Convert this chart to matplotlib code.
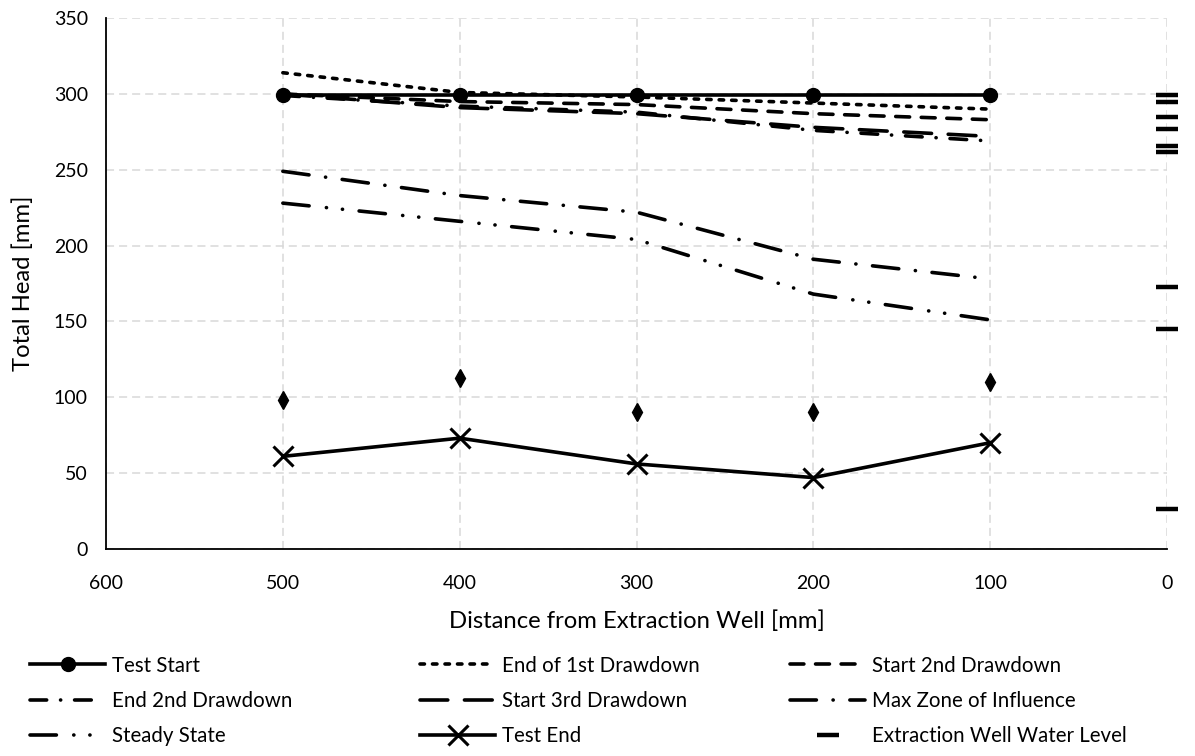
import matplotlib
matplotlib.use("Agg")
import matplotlib.pyplot as plt

plt.rcParams['font.family'] = ['Lato', 'DejaVu Sans']
plt.rcParams['lines.scale_dashes'] = False

distance = [500, 400, 300, 200, 100]

test_start = [299, 299, 299, 299, 299]
end_1st = [314, 301, 298, 294, 290]
start_2nd = [300, 295, 293, 287, 283]
end_2nd = [299, 292, 288, 276, 269]
start_3rd = [300, 291, 287, 278, 272]
max_zone = [249, 233, 222, 191, 178]
steady = [228, 216, 204, 168, 151]
test_end = [61, 73, 56, 47, 70]
other_pts = [98, 113, 90, 90, 110]

well_x = [0, 0, 0, 0, 0, 0, 0, 0, 0]
well_level = [299, 295, 285, 277, 266, 262, 173, 145, 26]

fig = plt.figure(figsize=(11.95, 7.56), dpi=100)
ax = fig.add_axes([0.0887, 0.274, 0.888, 0.702])

lw = 2.6
st = dict(color='black', lw=lw, dash_capstyle='round')
h = []
h += ax.plot(distance, test_start, color='black', lw=lw, marker='o', ms=10, label='Test Start')
h += ax.plot(distance, end_1st, dashes=(3.2, 5.8), label='End of 1st Drawdown', **st)
h += ax.plot(distance, start_2nd, dashes=(10, 8.4), label='Start 2nd Drawdown', **st)
h += ax.plot(distance, end_2nd, dashes=(12, 10, 0.1, 10), label='End 2nd Drawdown', **st)
h += ax.plot(distance, start_3rd, dashes=(20, 12), label='Start 3rd Drawdown', **st)
h += ax.plot(distance, max_zone, dashes=(19, 12, 0.1, 12), label='Max Zone of Influence', **st)
h += ax.plot(distance, steady, dashes=(19, 12.5, 0.1, 11.5, 0.1, 12), label='Steady State', **st)
h += ax.plot(distance, test_end, color='black', lw=lw, marker='x', ms=14, mew=2.2, label='Test End')
ax.plot(distance, other_pts, color='black', lw=0, marker='d', ms=9, label='_nolegend_')
h += ax.plot(well_x, well_level, color='black', lw=0, marker='_', ms=16, mew=3.2, clip_on=False,
             label='Extraction Well Water Level')

ax.set_xlim(600, 0)
ax.set_ylim(0, 350)
ax.set_xticks([600, 500, 400, 300, 200, 100, 0])
ax.set_yticks(range(0, 351, 50))
ax.tick_params(length=0, labelsize=14)
ax.tick_params(axis='x', pad=19)
ax.tick_params(axis='y', pad=13)
ax.grid(True, color='#d9d9d9', lw=1.1, dashes=(5.8, 3.6))
ax.set_axisbelow(True)
for s in ['top', 'right']:
    ax.spines[s].set_visible(False)
for s in ['left', 'bottom']:
    ax.spines[s].set_linewidth(1.3)
ax.set_xlabel('Distance from Extraction Well [mm]', fontsize=17.2, labelpad=13)
ax.set_ylabel('Total Head [mm]', fontsize=17.2, labelpad=14)

# three legend columns, filled row by row like the original
col_x = [0.0096, 0.336, 0.6456]
for c in range(3):
    hh = h[c::3]
    fig.legend(hh, [x.get_label() for x in hh], loc='upper left', bbox_to_anchor=(col_x[c], 0.1574),
               frameon=False, fontsize=14.8, handlelength=3.66, handletextpad=0.35, labelspacing=0.75)

fig.savefig('out.png', dpi=100)
